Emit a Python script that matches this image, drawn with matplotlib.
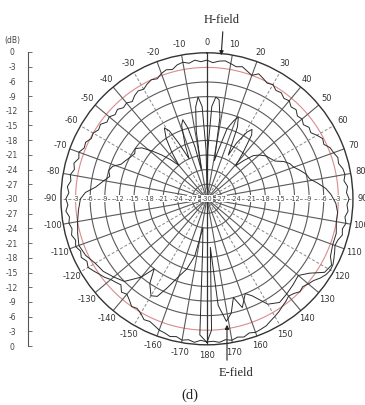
import numpy as np
import matplotlib

matplotlib.use("Agg")
import matplotlib.pyplot as plt

# measured patterns, dB relative to peak, angle in degrees (0 = up, clockwise)
H_ANGLES = np.arange(-180, 180.5, 2.5)
H_DB = [
    -0.6, -0.9, -0.4, -0.8, -0.5, -1.0, -0.7, -1.1,
    -1.3, -1.8, -2.2, -2.0, -2.8, -3.3, -3.0, -3.8,
    -4.4, -4.0, -5.0, -4.6, -4.2, -3.5, -3.0, -2.4,
    -1.8, -2.2, -1.5, -1.9, -1.3, -1.7, -1.2, -1.6,
    -1.2, -1.5, -0.9, -1.4, -1.0, -1.6, -1.2, -1.8,
    -1.5, -2.1, -1.7, -2.4, -2.0, -2.7, -2.5, -3.2,
    -3.0, -3.6, -3.3, -4.1, -3.8, -4.4, -4.0, -4.6,
    -4.3, -4.8, -4.1, -3.7, -4.0, -3.4, -3.0, -3.3,
    -2.6, -2.2, -2.5, -1.8, -1.5, -1.9, -1.4, -1.8,
    -1.5, -2.0, -1.6, -1.4, -1.8, -2.2, -1.9, -2.5,
    -3.0, -2.2, -2.7, -3.2, -2.9, -3.6, -3.4, -4.0,
    -3.7, -4.4, -4.1, -4.8, -4.5, -5.0, -4.4, -4.7,
    -3.9, -3.2, -3.5, -2.6, -2.3, -1.8, -2.0, -1.4,
    -1.2, -1.6, -1.0, -1.3, -0.8, -1.2, -0.9, -1.4,
    -1.0, -1.5, -1.2, -1.8, -2.0, -1.6, -1.2, -0.8,
    -0.7, -1.0, -1.6, -2.4, -2.8, -3.3, -3.0, -3.6,
    -3.9, -3.4, -3.0, -2.5, -2.1, -1.7, -1.2, -1.0,
    -0.8, -1.1, -0.6, -0.9, -0.5, -0.8, -0.4, -0.7,
    -0.6,
]

E_ANGLES = [
    -180, -177, -175, -172, -168, -164, -160, -156, -153, -150, -146, -143,
    -140, -135, -130, -125, -120, -115, -110, -105, -100, -95, -90, -87,
    -84, -80, -77, -74, -71, -68, -65, -62, -58, -55, -52, -49, -46, -43,
    -40, -37, -34, -31, -29, -27, -24, -22, -19, -17, -15, -13, -11, -9,
    -7, -5, -3, -1, 0, 1, 3, 5, 7, 9, 11, 13, 16, 19, 21, 23, 26, 28, 31,
    33, 35, 38, 41, 44, 47, 50, 54, 58, 61, 64, 67, 70, 73, 76, 79, 82,
    85, 88, 92, 96, 100, 105, 110, 115, 118, 122, 126, 130, 135, 140, 145,
    150, 155, 158, 162, 165, 168, 171, 174, 176, 178, 180,
]
E_DB = [
    -0.5, -2.0, -20.0, -24.0, -18.0, -15.0, -13.0, -10.0, -7.5, -7.0, -9.0, -12.0,
    -9.0, -6.0, -5.0, -4.0, -3.5, -2.5, -2.0, -2.5, -3.0, -3.5, -4.0, -5.0,
    -7.0, -8.5, -9.5, -9.0, -9.5, -11.0, -11.5, -12.0, -12.5, -12.0, -13.0, -15.0, -17.0, -19.0,
    -21.0, -18.0, -15.0, -13.0, -14.0, -17.0, -21.0, -18.0, -14.0, -13.0, -15.0, -19.0, -24.0, -16.0,
    -11.0, -9.0, -11.0, -20.0, -28.0, -20.0, -11.0, -9.0, -9.5, -13.0, -22.0, -20.0, -15.0, -13.0, -12.0, -14.0, -20.0, -17.0, -14.0,
    -13.0, -14.0, -18.0, -21.0, -19.0, -17.0, -16.0, -15.0, -14.5, -14.0, -12.5, -11.5, -11.0, -10.0, -9.0, -8.5, -7.0,
    -5.5, -4.5, -3.5, -3.0, -3.0, -2.5, -2.5, -2.0, -1.0, -1.5, -4.0, -5.5, -5.0, -4.5, -4.0,
    -5.0, -8.0, -9.0, -6.5, -9.0, -6.0, -4.5, -8.0, -20.0, -3.0, -0.5,
]

RINGS = [-27, -24, -21, -18, -15, -12, -9, -6, -3]
ANGLE_TICKS = list(range(-170, 190, 10))
SCALE_LABELS = [0, -3, -6, -9, -12, -15, -18, -21, -24, -27, -30,
                -27, -24, -21, -18, -15, -12, -9, -6, -3, 0]

GRID = "#5a5a5a"
TRACE = "#2a2a2a"

fig = plt.figure(figsize=(3.65, 4.05), dpi=100)
ax = fig.add_axes([0.167, 0.1486, 0.8, 0.721], projection="polar")
ax.set_theta_zero_location("N")
ax.set_theta_direction(-1)
ax.set_ylim(-30, 0)
ax.grid(False)
ax.set_xticks([])
ax.set_yticks([])
ax.spines["polar"].set_color("#333333")
ax.spines["polar"].set_linewidth(1.0)

full = np.linspace(0, 2 * np.pi, 361)
for r in RINGS:
    col = "#d98c8c" if r == -3 else GRID
    ax.plot(full, np.full_like(full, r), color=col, lw=0.8, zorder=1)

for a in range(0, 360, 10):
    t = np.deg2rad(a)
    if a in (0, 180):
        ax.plot([t, t], [-30, 0], color="#333333", lw=0.9, zorder=1)
    elif a % 30 == 0:
        ax.plot([t, t], [-30, 0], color="#888888", lw=0.7, ls=(0, (3, 2)), zorder=1)
    else:
        ax.plot([t, t], [-30, 0], color=GRID, lw=0.8, zorder=1)

for a in ANGLE_TICKS:
    ax.text(np.deg2rad(a), 2.1, str(a), fontsize=6, color="#333333",
            ha="center", va="center", clip_on=False)

# dB values written along the 90/-90 axis
for r in RINGS:
    for side in (-90, 90):
        ax.text(np.deg2rad(side), r, str(r), fontsize=4.8, color="#444444",
                ha="center", va="center", zorder=3,
                bbox=dict(boxstyle="square,pad=0.05", fc="white", ec="none"))
ax.text(0, -30, "-30", fontsize=4.8, color="#444444", ha="center", va="center",
        zorder=3, bbox=dict(boxstyle="square,pad=0.05", fc="white", ec="none"))

ax.plot(np.deg2rad(H_ANGLES), H_DB, color=TRACE, lw=0.7, zorder=4)
ax.plot(np.deg2rad(E_ANGLES), E_DB, color=TRACE, lw=0.7, zorder=4)

# vertical dB scale at the left
sax = fig.add_axes([0.0767, 1 - 346 / 405, 0.02, 294 / 405])
sax.set_ylim(20, 0)
sax.set_xlim(0, 1)
for s in ("top", "right", "bottom"):
    sax.spines[s].set_visible(False)
sax.spines["left"].set_color("#555555")
sax.patch.set_alpha(0)
sax.set_xticks([])
sax.set_yticks(range(len(SCALE_LABELS)))
sax.set_yticklabels([str(v) for v in SCALE_LABELS], fontsize=5.5, color="#444444")
sax.tick_params(axis="y", direction="in", length=3, width=0.6, color="#555555", pad=11.5)
for lab in sax.get_yticklabels():
    lab.set_horizontalalignment("center")
fig.text(12 / 365, 1 - 40 / 405, "(dB)", fontsize=5.5, color="#444444",
         ha="center", va="center")

serif = ["Liberation Serif", "DejaVu Serif"]
fig.text(222 / 365, 1 - 20 / 405, "H-field", fontsize=9, family=serif,
         ha="center", va="center", color="#222222")
ax.annotate("", xy=(221 / 365, 1 - 58 / 405), xycoords="figure fraction",
            xytext=(223 / 365, 1 - 29 / 405), textcoords="figure fraction",
            arrowprops=dict(arrowstyle="-|>", lw=0.8, color="#222222", mutation_scale=6))
fig.text(236 / 365, 1 - 373 / 405, "E-field", fontsize=9, family=serif,
         ha="center", va="center", color="#222222")
ax.annotate("", xy=(227 / 365, 1 - 322 / 405), xycoords="figure fraction",
            xytext=(227 / 365, 1 - 363 / 405), textcoords="figure fraction",
            arrowprops=dict(arrowstyle="-|>", lw=0.8, color="#222222", mutation_scale=6))
fig.text(190 / 365, 1 - 395 / 405, "(d)", fontsize=10.5, family=serif,
         ha="center", va="center", color="#222222")

fig.savefig("out.png", dpi=100)
